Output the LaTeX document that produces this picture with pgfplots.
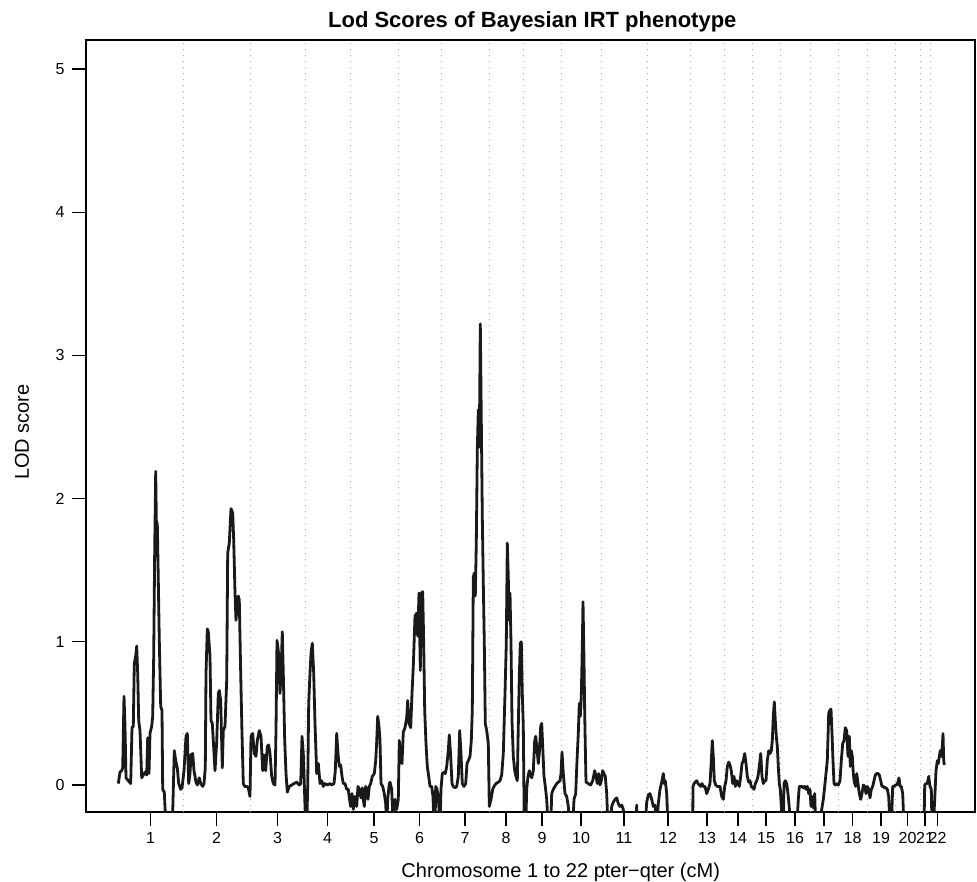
\documentclass[border=0pt]{standalone}
\usepackage{fontspec}
\setmainfont{Liberation Sans}
\usepackage{pgfplots}
\usepackage{pgfplotstable}
\pgfplotsset{compat=1.18}

\pgfplotstableread{
x y
118.3 0.01
120.0 0.09
121.7 0.10
122.7 0.12
124.0 0.62
125.0 0.41
126.0 0.05
128.3 0.03
130.7 0.01
132.0 0.40
133.3 0.41
134.3 0.85
135.7 0.90
136.7 0.97
137.7 0.78
138.7 0.45
140.0 0.38
141.7 0.05
143.3 0.07
145.0 0.09
146.7 0.07
147.7 0.33
149.0 0.08
150.0 0.36
151.7 0.41
152.7 0.48
153.7 0.90
154.7 1.64
155.7 2.19
156.7 1.66
157.3 1.83
158.3 1.43
159.3 1.01
160.7 0.55
162.0 0.52
162.7 -0.03
164.3 -0.05
166.0 -0.3
172.3 -0.3
174.3 0.24
175.7 0.17
177.3 0.12
178.7 0.01
180.7 -0.03
182.0 -0.02
184.0 0.10
186.0 0.34
187.3 0.36
188.7 0.01
190.0 0.08
191.0 0.21
192.7 0.22
194.0 0.10
196.0 0.02
197.3 0.00
199.3 0.05
200.7 0.01
202.7 -0.01
204.0 0.01
205.3 0.12
206.0 0.78
207.3 1.09
208.3 1.07
210.0 0.90
211.0 0.45
212.3 0.43
213.3 0.31
215.0 0.10
216.7 0.30
218.3 0.64
219.3 0.66
220.7 0.59
222.3 0.12
223.3 0.38
225.0 0.41
226.7 0.73
227.7 1.62
229.3 1.69
231.0 1.93
232.7 1.90
233.7 1.71
235.0 1.34
236.0 1.15
237.3 1.27
238.3 1.32
239.3 1.29
240.7 0.78
242.0 0.36
243.3 0.01
244.7 -0.01
246.7 -0.01
248.3 -0.02
250.0 -0.08
251.0 0.34
252.7 0.36
254.3 0.22
256.0 0.20
257.3 0.31
259.3 0.38
261.0 0.34
262.7 0.10
264.0 0.21
265.7 0.10
267.3 0.27
268.7 0.28
270.0 0.22
271.7 0.06
273.3 0.01
275.0 0.00
276.0 0.38
277.0 1.01
278.3 0.94
280.0 0.64
281.0 0.78
282.3 1.07
283.3 0.78
284.7 0.31
286.0 0.08
287.3 -0.05
289.3 -0.01
291.7 0.00
294.0 0.01
296.7 0.02
299.3 0.00
300.7 0.01
302.0 0.34
303.3 0.22
304.3 0.01
305.7 -0.3
306.7 -0.3
307.7 -0.01
308.7 0.57
310.0 0.78
311.0 0.92
312.3 0.99
313.7 0.78
315.0 0.43
316.7 0.08
318.3 0.15
320.0 0.01
321.7 0.03
323.3 -0.01
325.0 0.01
327.3 0.00
330.0 0.01
331.7 0.00
334.0 0.01
335.3 0.10
336.7 0.36
338.0 0.22
339.3 0.13
340.7 0.14
342.0 0.06
343.3 0.01
345.0 0.01
346.7 -0.03
348.3 -0.03
349.3 -0.09
350.7 -0.15
352.0 -0.06
353.3 -0.17
355.0 -0.08
356.7 -0.15
358.0 -0.01
359.3 -0.03
361.0 -0.09
362.3 -0.02
363.3 -0.10
364.3 -0.15
365.7 -0.01
366.7 -0.03
368.0 -0.10
369.3 -0.01
370.7 0.01
372.3 0.06
374.3 0.08
375.7 0.17
376.7 0.30
377.7 0.48
379.0 0.41
380.0 0.31
381.0 0.01
382.7 -0.01
384.3 -0.06
385.7 -0.13
386.7 -0.3
387.7 -0.10
389.3 0.01
390.0 0.02
391.7 -0.03
393.3 -0.3
395.0 -0.10
396.7 -0.17
398.3 -0.10
399.3 0.31
400.7 0.17
402.0 0.15
403.3 0.37
405.0 0.40
406.7 0.47
407.7 0.59
409.0 0.43
410.7 0.40
412.0 0.64
413.3 0.83
415.0 1.18
416.7 1.20
417.7 1.04
419.0 1.34
420.3 0.80
421.3 1.34
422.7 1.35
423.7 0.99
424.7 0.52
426.0 0.29
427.3 0.13
428.7 0.06
430.0 -0.01
431.7 -0.01
433.0 -0.08
434.0 -0.3
435.0 -0.3
435.7 -0.01
437.0 -0.03
438.3 -0.08
440.0 -0.3
441.0 -0.03
442.3 0.08
444.0 0.09
445.3 0.08
446.7 0.13
448.3 0.24
449.3 0.35
450.7 0.20
452.0 0.01
453.3 -0.01
455.0 -0.02
456.7 -0.01
458.3 0.06
459.7 0.38
461.0 0.22
462.3 0.01
464.0 -0.01
465.7 0.01
467.0 0.15
468.3 0.17
470.0 0.20
471.3 0.31
472.3 0.52
473.3 1.45
474.3 1.48
475.3 1.32
476.3 1.69
477.3 2.34
478.3 2.62
479.3 2.36
480.3 3.22
481.3 2.55
482.3 1.87
483.3 1.41
484.3 0.99
485.3 0.43
486.7 0.38
488.3 0.29
489.3 -0.15
491.0 -0.10
492.7 -0.03
494.0 -0.01
496.0 0.01
498.3 0.02
500.0 0.03
501.7 0.07
503.3 0.22
505.0 0.64
506.3 0.99
507.3 1.69
508.3 1.45
509.0 1.15
510.0 1.34
511.0 0.99
512.0 0.45
513.3 0.20
514.7 0.10
516.0 0.06
517.3 0.03
518.3 0.41
519.3 0.76
520.3 0.99
521.3 1.00
522.3 0.64
523.3 0.41
524.3 -0.3
525.7 -0.3
526.7 -0.03
528.0 0.06
529.3 0.10
530.0 0.08
531.7 0.05
533.3 0.10
534.7 0.31
535.7 0.34
536.7 0.27
538.3 0.15
539.3 0.22
540.7 0.41
541.7 0.43
542.7 0.27
544.0 0.06
545.3 -0.01
546.7 -0.10
548.3 -0.3
550.7 -0.3
551.7 -0.06
553.3 -0.03
555.0 -0.01
556.7 0.01
558.3 0.02
560.0 0.03
561.0 0.08
562.0 0.23
563.3 0.08
565.0 -0.06
566.7 -0.08
568.3 -0.15
570.0 -0.3
572.7 -0.3
574.0 -0.10
575.7 -0.06
577.0 0.17
578.3 0.36
579.3 0.57
580.3 0.48
581.3 0.62
582.3 0.97
583.0 1.28
584.0 0.87
584.7 0.50
585.3 0.27
586.0 0.02
588.3 0.01
590.7 0.00
592.7 0.03
594.7 0.10
596.0 0.06
597.3 0.01
598.7 0.08
600.0 0.00
601.3 0.03
602.7 0.10
604.0 0.08
605.3 0.06
606.7 -0.06
608.0 -0.3
610.0 -0.3
611.7 -0.15
613.3 -0.12
615.0 -0.10
616.7 -0.09
618.3 -0.13
620.0 -0.15
621.7 -0.14
623.3 -0.17
624.3 -0.3
636.0 -0.3
636.7 -0.14
637.3 -0.3
645.0 -0.3
646.7 -0.12
648.3 -0.07
650.0 -0.06
651.7 -0.10
653.3 -0.15
655.0 -0.14
656.7 -0.3
658.3 -0.13
660.0 -0.03
661.7 0.02
663.3 0.08
664.3 0.01
665.3 0.03
666.7 -0.06
668.0 -0.3
692.7 -0.3
693.0 -0.01
694.0 0.01
695.3 0.02
696.7 0.03
698.0 0.01
699.3 0.00
700.7 -0.01
702.0 0.01
703.3 -0.01
705.0 -0.01
706.7 -0.06
708.3 -0.03
710.0 0.01
711.3 0.17
712.3 0.31
713.3 0.20
714.3 0.03
715.7 0.00
717.3 -0.01
718.7 -0.01
720.0 -0.01
721.7 -0.08
723.3 -0.10
724.7 -0.01
726.0 0.03
727.3 0.13
728.7 0.16
730.0 0.14
731.3 0.10
732.7 0.01
734.0 0.06
735.3 -0.01
736.7 0.03
738.0 0.01
739.3 -0.01
740.7 0.06
742.0 0.15
743.3 0.17
744.7 0.22
746.0 0.15
747.3 0.06
748.7 0.02
750.0 0.03
751.3 -0.01
752.7 -0.02
754.0 -0.03
755.3 0.01
756.7 0.03
758.0 0.06
759.3 0.13
760.7 0.22
762.0 0.06
763.3 0.01
764.7 0.03
766.0 0.03
767.3 0.17
768.7 0.24
770.0 0.22
771.3 0.24
772.3 0.31
773.3 0.48
774.3 0.58
775.3 0.45
776.3 0.34
777.3 0.27
778.3 0.13
779.3 0.01
780.3 -0.03
781.3 -0.15
782.3 -0.3
783.3 -0.3
784.0 0.01
785.3 0.03
786.7 0.01
788.0 -0.06
789.3 -0.16
790.7 -0.3
796.7 -0.3
798.3 -0.10
799.3 -0.01
800.7 -0.01
802.0 -0.01
803.3 -0.02
804.7 -0.01
806.0 -0.03
807.3 -0.01
808.7 -0.06
810.0 -0.03
811.0 -0.15
812.0 -0.08
813.3 -0.16
814.7 -0.06
815.7 -0.3
820.0 -0.3
821.7 -0.17
823.3 -0.10
824.7 -0.01
826.0 0.08
827.3 0.17
828.7 0.50
829.7 0.52
831.0 0.53
832.0 0.36
833.0 0.17
834.0 0.01
835.3 0.00
836.7 0.01
838.3 0.00
840.0 0.03
841.3 0.17
842.7 0.29
844.0 0.31
845.3 0.40
846.7 0.38
848.0 0.20
849.3 0.34
850.3 0.13
851.3 0.24
852.3 0.20
853.3 0.08
854.3 0.02
855.7 -0.01
856.7 0.08
858.0 0.01
859.3 -0.06
860.7 -0.10
862.0 -0.06
863.3 0.00
864.7 -0.01
866.0 -0.06
867.3 -0.01
868.7 -0.03
870.0 -0.09
871.3 -0.03
872.7 -0.01
874.0 0.03
875.3 0.07
876.7 0.08
878.0 0.08
879.3 0.07
880.7 0.03
882.0 -0.01
883.3 -0.01
884.7 -0.02
886.0 -0.02
887.3 -0.03
888.7 -0.08
890.0 -0.3
891.3 -0.3
892.7 -0.01
894.0 -0.01
895.3 0.00
896.7 0.00
898.0 0.02
899.0 0.05
900.0 -0.01
901.3 -0.01
902.7 -0.06
904.0 -0.3
924.0 -0.3
924.7 0.00
926.0 0.01
927.3 0.01
928.7 0.06
930.0 -0.01
931.3 -0.03
932.0 -0.3
933.3 -0.3
934.7 -0.10
936.0 0.10
937.3 0.17
938.3 0.15
939.3 0.20
940.3 0.24
941.3 0.20
942.3 0.27
943.0 0.36
943.7 0.17
944.3 0.14
}\lod

\begin{document}
\begin{tikzpicture}
\begin{axis}[
  at={(0,0)}, anchor=south west,
  width=889pt, height=772pt, scale only axis,
  xmin=86, xmax=975, ymin=-0.1885, ymax=5.2025,
  axis line style={line width=1.3pt},
  tick align=outside, major tick length=14pt,
  every tick/.style={black, line width=1.3pt},
  xtick pos=bottom, ytick pos=left,
  xtick={150.5,216.5,277.5,327.5,374,419.5,465,506,542,581,624,668,707,738,766,795,824,852.5,881,907.5,925,937.5},
  xticklabels={1,2,3,4,5,6,7,8,9,10,11,12,13,14,15,16,17,18,19,20,21,22},
  ytick={0,1,2,3,4,5},
  tick label style={font=\fontsize{16}{19}\selectfont},
  xticklabel style={yshift=-3pt},
  yticklabel style={xshift=-4pt},
  /pgf/number format/assume math mode=true,
  extra x ticks={183,250,305,350,398,441,489,523,561,601,647,690,724,752,780,810,838,867,895,920,930},
  extra x tick labels={},
  extra x tick style={grid=major, major tick length=0pt,
    major grid style={gray!70, line width=0.9pt, dash pattern=on 1pt off 5pt}},
  title={Lod Scores of Bayesian IRT phenotype},
  title style={font=\bfseries\fontsize{22}{26}\selectfont, at={(axis description cs:0.502,1.0155)}, anchor=center, yshift=0pt},
  xlabel={Chromosome 1 to 22 pter−qter (cM)},
  xlabel style={font=\fontsize{20}{24}\selectfont, at={(axis description cs:0.534,-0.0777)}, anchor=center},
  ylabel={LOD score},
  ylabel style={font=\fontsize{20}{24}\selectfont, at={(axis description cs:-0.072,0.492)}, anchor=center},
  clip=true,
]
\addplot[black!90, line width=2.8pt, line join=round, no marks] table {\lod};
\end{axis}
\pgfresetboundingbox
\path[use as bounding box] (-86pt,-69pt) rectangle (891pt,812pt);
\end{tikzpicture}
\end{document}
